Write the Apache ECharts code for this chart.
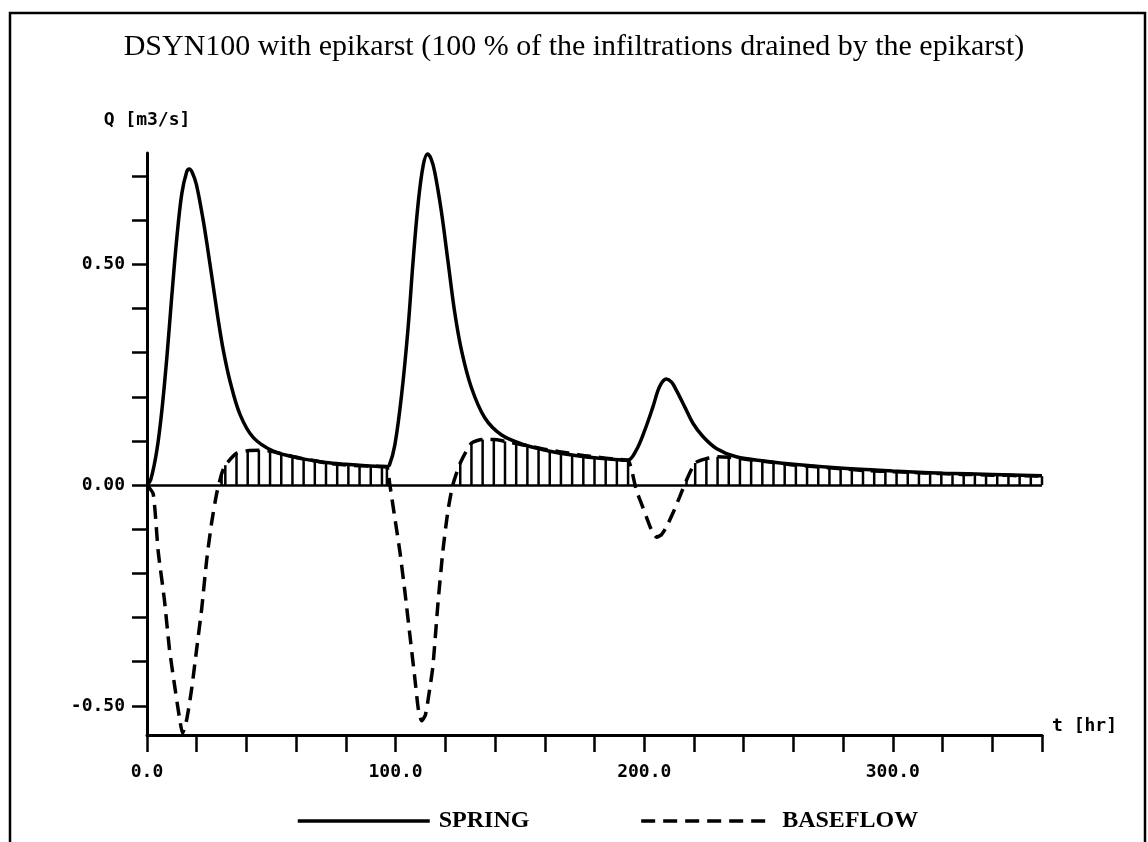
<!DOCTYPE html>
<html>
<head>
<meta charset="utf-8">
<script src="https://cdn.jsdelivr.net/npm/echarts@6/dist/echarts.min.js"></script>
<style>
  html, body { margin: 0; padding: 0; background: #fff; }
  #main { width: 1148px; height: 842px; }
</style>
</head>
<body>
<div id="main"></div>
<script>
// spring discharge
const springT = [0, 1.5, 4, 6, 8, 10, 12, 14, 16, 17, 18.2, 19.9, 22.6, 24.6, 26.6, 28.7, 30.7, 33.4, 37.4, 42.7, 50.8, 61.5, 72, 80, 88, 96.5,
  97.5, 99.7, 102.4, 105, 107, 109.1, 111.1, 112.8, 114.2, 115.7, 118.4, 121.1, 123.8, 126.5, 130.4, 135.8, 142.5, 151.9, 162.6, 176, 186, 193.3,
  196.8, 200.2, 203.5, 206.2, 208.9, 211, 212.9, 216.3, 219.6, 223.6, 229, 237, 249, 260, 280, 300, 320, 340, 360]
const springQ = [0, 0.012, 0.08, 0.17, 0.29, 0.43, 0.56, 0.66, 0.71, 0.716, 0.708, 0.68, 0.6, 0.528, 0.452, 0.372, 0.305, 0.235, 0.16, 0.108, 0.077, 0.061, 0.051, 0.047, 0.044, 0.042,
  0.045, 0.091, 0.204, 0.355, 0.505, 0.64, 0.724, 0.75, 0.74, 0.71, 0.62, 0.505, 0.39, 0.305, 0.222, 0.153, 0.114, 0.091, 0.076, 0.064, 0.059, 0.056,
  0.079, 0.124, 0.177, 0.223, 0.24, 0.233, 0.215, 0.177, 0.14, 0.11, 0.083, 0.064, 0.054, 0.047, 0.038, 0.032, 0.027, 0.024, 0.021]

const baseT = [0, 2.5, 4.5, 7, 9, 11, 13, 14.3, 16, 18, 20, 22, 24, 26, 28, 30, 31.5, 36, 40.5, 45, 49.5, 54, 58.5, 63, 67.5, 72, 76.5, 81, 85.5, 90, 94.5, 96.5,
  97.7, 99.7, 101.7, 103.7, 105.7, 107.7, 109.2, 110.5, 112, 113.5, 115, 117, 119, 121, 123, 126, 130.5, 135, 139.5, 144, 148.5, 153, 157.5, 162, 166.5, 171, 175.5, 180, 184.5, 189, 193.5,
  196.8, 198.8, 200.8, 202.8, 205, 207, 209, 211.5, 214.3, 217, 220.5, 225, 229.5, 234, 238.5, 243, 247.5, 252, 256.5, 261, 265.5, 270, 274.5, 279, 283.5, 288, 292.5, 297,
  301.5, 306, 310.5, 315, 319.5, 324, 328.5, 333, 337.5, 342, 346.5, 351, 355.5, 360]
const baseQ = [0, -0.02, -0.15, -0.26, -0.37, -0.45, -0.525, -0.562, -0.53, -0.46, -0.37, -0.28, -0.17, -0.085, -0.02, 0.025, 0.045, 0.072, 0.078, 0.079, 0.077, 0.071, 0.065, 0.059, 0.055, 0.05, 0.047, 0.045, 0.044, 0.043, 0.042, 0.041,
  0, -0.075, -0.15, -0.24, -0.338, -0.436, -0.51, -0.534, -0.52, -0.47, -0.41, -0.27, -0.15, -0.06, 0, 0.05, 0.095, 0.103, 0.103, 0.099, 0.094, 0.089, 0.084, 0.079, 0.075, 0.071, 0.067, 0.064, 0.061, 0.058, 0.056,
  -0.011, -0.041, -0.071, -0.1, -0.118, -0.112, -0.094, -0.064, -0.026, 0.011, 0.05, 0.06, 0.064, 0.063, 0.06, 0.057, 0.054, 0.051, 0.048, 0.045, 0.043, 0.041, 0.039, 0.037, 0.035, 0.033, 0.032, 0.031,
  0.03, 0.029, 0.028, 0.027, 0.026, 0.025, 0.024, 0.024, 0.023, 0.022, 0.022, 0.021, 0.021, 0.02]

// axis ticks and labels
const xLabels = [0, 100, 200, 300]
const yTicks = [-0.5, -0.4, -0.3, -0.2, -0.1, 0, 0.1, 0.2, 0.3, 0.4, 0.5, 0.6, 0.7]
const yLabels = [-0.5, 0, 0.5]

const spring = springT.map((t, i) => [t, springQ[i]])
const base = baseT.map((t, i) => [t, baseQ[i]])
// vertical hatch where baseflow is positive
const hatch = base.filter(p => p[1] > 0)

const mono = 'DejaVu Sans Mono'
const serif = 'Liberation Serif'
const monoText = { fontFamily: mono, fontSize: 18, fontWeight: 'bold', color: '#000' }

const chart = echarts.init(document.getElementById('main'), null, { renderer: 'canvas' })
chart.setOption({
  backgroundColor: '#fff',
  animation: false,
  title: {
    text: 'DSYN100 with epikarst (100 % of the infiltrations drained by the epikarst)',
    left: 'center',
    top: 27,
    textStyle: { fontFamily: serif, fontSize: 30, fontWeight: 'normal', color: '#000' }
  },
  graphic: [{
    type: 'rect',
    shape: { x: 10, y: 13, width: 1135, height: 860 },
    style: { fill: 'none', stroke: '#000', lineWidth: 2.5 },
    silent: true
  }],
  legend: {
    data: ['SPRING', 'BASEFLOW'],
    left: 291,
    top: 804,
    itemWidth: 132,
    itemHeight: 14,
    itemGap: 110,
    itemStyle: { opacity: 0 },
    lineStyle: { width: 3.5 },
    textStyle: { fontFamily: serif, fontSize: 24, fontWeight: 'bold', color: '#000', padding: [0, 0, 0, 4] }
  },
  grid: { left: 147, right: 106, top: 153, bottom: 107 },
  xAxis: {
    type: 'value',
    min: 0,
    max: 360,
    interval: 20,
    name: 't [hr]',
    nameLocation: 'end',
    nameGap: 10,
    nameTextStyle: Object.assign({ align: 'left', verticalAlign: 'bottom' }, monoText),
    axisLine: { onZero: false, lineStyle: { color: '#000', width: 3 } },
    axisTick: { length: 17, lineStyle: { color: '#000', width: 2.5 } },
    axisLabel: Object.assign({
      customValues: xLabels,
      margin: 28,
      formatter: v => v.toFixed(1)
    }, monoText),
    splitLine: { show: false }
  },
  yAxis: {
    type: 'value',
    min: -0.566,
    max: 0.752,
    name: 'Q [m3/s]',
    nameLocation: 'end',
    nameGap: 33,
    nameTextStyle: Object.assign({ align: 'center', verticalAlign: 'middle' }, monoText),
    axisLine: { onZero: false, lineStyle: { color: '#000', width: 3 } },
    axisTick: { customValues: yTicks, length: 15, lineStyle: { color: '#000', width: 2.5 } },
    axisLabel: Object.assign({
      customValues: yLabels,
      margin: 22,
      formatter: v => v.toFixed(2)
    }, monoText),
    splitLine: { show: false }
  },
  series: [
    {
      name: 'hatch',
      type: 'bar',
      data: hatch,
      barWidth: 2.5,
      itemStyle: { color: '#000' },
      silent: true,
      z: 1
    },
    {
      name: 'SPRING',
      type: 'line',
      data: spring,
      smooth: 0.35,
      symbol: 'none',
      lineStyle: { color: '#000', width: 3.5 },
      itemStyle: { color: '#000' },
      z: 3,
      markLine: {
        silent: true,
        symbol: ['none', 'none'],
        label: { show: false },
        lineStyle: { color: '#000', width: 2.5, type: 'solid' },
        data: [{ yAxis: 0 }]
      }
    },
    {
      name: 'BASEFLOW',
      type: 'line',
      data: base,
      smooth: 0.2,
      symbol: 'none',
      lineStyle: { color: '#000', width: 3.5, type: [14, 8] },
      itemStyle: { color: '#000' },
      z: 2
    }
  ]
})
</script>
</body>
</html>
